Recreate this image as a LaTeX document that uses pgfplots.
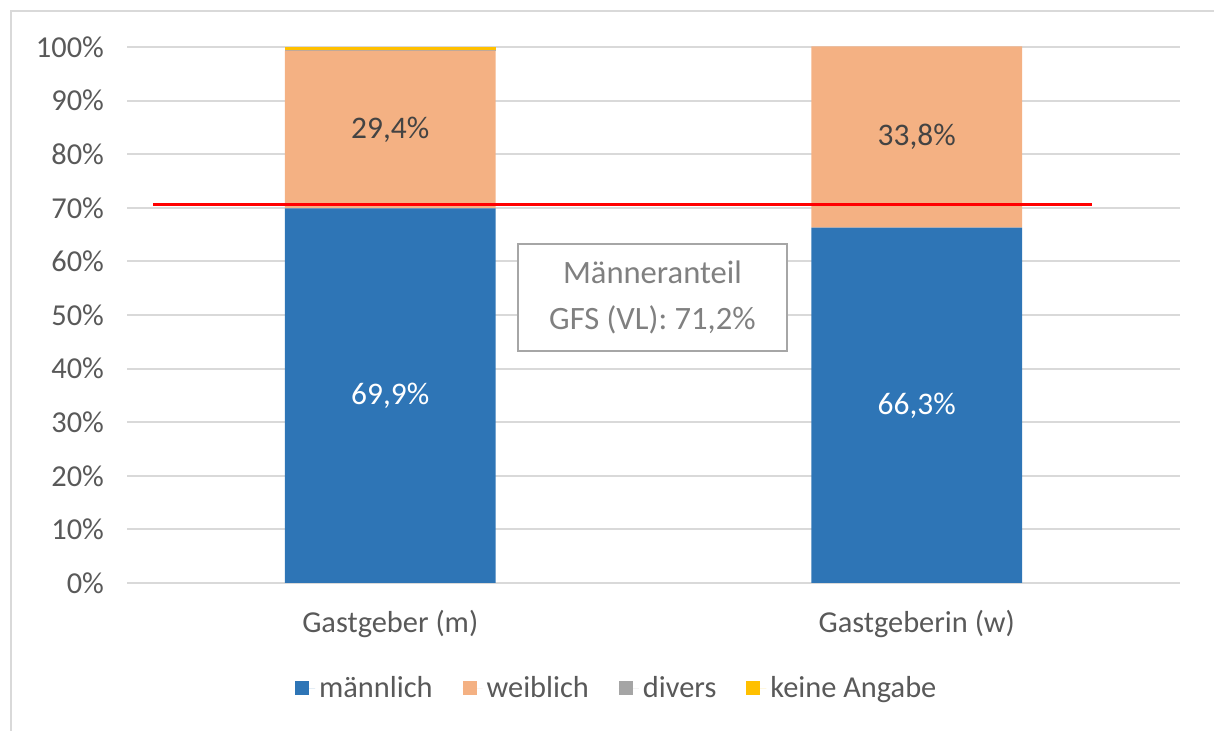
\documentclass[border=0pt]{standalone}
\usepackage{fontspec}
\setmainfont{Carlito}
\usepackage{pgfplots}
\pgfplotsset{compat=1.18}
\definecolor{cblue}{HTML}{2E75B6}
\definecolor{corange}{HTML}{F4B183}
\definecolor{cgray}{HTML}{A5A5A5}
\definecolor{cyellow}{HTML}{FFC000}
\definecolor{gridc}{HTML}{D9D9D9}
\definecolor{tickc}{HTML}{595959}
\definecolor{boxc}{HTML}{A6A6A6}
\definecolor{boxt}{HTML}{808080}
\begin{document}
\begin{tikzpicture}
\useasboundingbox (-63.5pt,-74pt) rectangle (543.5pt,291.5pt);
\draw[gridc, line width=1.2pt] (-58pt,-90pt) -- (-58pt,286pt) -- (560pt,286pt);
\begin{axis}[
  width=526.5pt, height=268pt, scale only axis,
  xmin=-0.5, xmax=1.5, ymin=0, ymax=100,
  ybar stacked, bar width=0.4,
  xtick={0,1}, xticklabels={Gastgeber (m), Gastgeberin (w)},
  ytick={0,10,...,100},
  yticklabel={\pgfmathprintnumber{\tick}\%},
  /pgf/number format/assume math mode=true,
  ymajorgrids, grid style={gridc, line width=1pt},
  axis line style={draw=none}, major tick length=0,
  tick label style={font=\fontsize{15.2}{18}\selectfont, text=tickc},
  yticklabel style={xshift=-8pt},
  xticklabel style={yshift=-10pt},
  legend style={at={(0.466,-0.196)}, anchor=center, draw=none,
    font=\fontsize{15.2}{18}\selectfont, text=tickc,
    /tikz/every even column/.append style={column sep=13pt}},
  legend columns=-1,
  legend image code/.code={\fill[#1] (0pt,-3.5pt) rectangle (7pt,3.5pt); \path (0pt,0pt) -- (10pt,0pt);},
]
\addplot[fill=cblue, draw=none] coordinates {(0,69.9) (1,66.3)};
\addplot[fill=corange, draw=none] coordinates {(0,29.4) (1,33.8)};
\addplot[fill=cgray, draw=none] coordinates {(0,0.2) (1,0)};
\addplot[fill=cyellow, draw=none] coordinates {(0,0.5) (1,0)};
\legend{männlich, weiblich, divers, keine Angabe}
\coordinate (ra) at (axis cs:-0.45,70.6);
\coordinate (rb) at (axis cs:1.333,70.6);
\coordinate (la) at (axis cs:0,34.95);
\coordinate (lb) at (axis cs:1,33.15);
\coordinate (lc) at (axis cs:0,84.6);
\coordinate (ld) at (axis cs:1,83.2);
\coordinate (bx) at (axis cs:0.498,53.3);
\end{axis}
\draw[red, line width=1.5pt] (ra) -- (rb);
\node[text=white, font=\fontsize{15.7}{18}\selectfont] at (la) {69,9\%};
\node[text=white, font=\fontsize{15.7}{18}\selectfont] at (lb) {66,3\%};
\node[text=tickc!75!black, font=\fontsize{15.7}{18}\selectfont] at (lc) {29,4\%};
\node[text=tickc!75!black, font=\fontsize{15.7}{18}\selectfont] at (ld) {33,8\%};
\node[draw=boxc, fill=white, line width=1pt, minimum width=134.5pt, minimum height=53.5pt,
  align=center, text=boxt, font=\fontsize{16.3}{23}\selectfont] at (bx)
  {Männeranteil\\GFS (VL): 71,2\%};
\end{tikzpicture}
\end{document}
